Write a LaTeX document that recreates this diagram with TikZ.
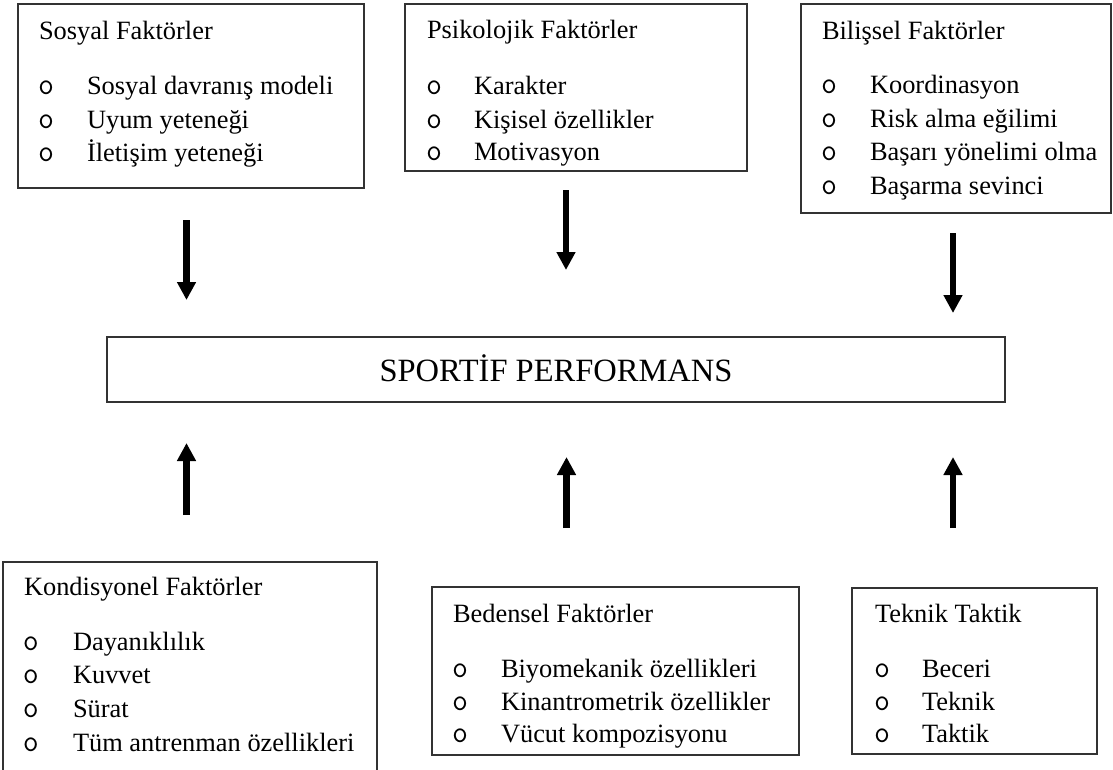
\documentclass[tikz,border=0pt]{standalone}
\usepackage{fontspec}
\setmainfont{Liberation Serif}
\usetikzlibrary{arrows.meta}
\tikzset{
  box/.style={draw=black!80, line width=1.1pt, rectangle, inner sep=0pt, outer sep=0pt, anchor=north west},
  txt/.style={anchor=base west, inner sep=0pt, outer sep=0pt, font=\fontsize{26.4}{32}\selectfont},
  bul/.style={anchor=base west, inner sep=0pt, outer sep=0pt, font=\ttfamily\fontsize{31}{36}\selectfont},
  bigtxt/.style={inner sep=0pt, font=\fontsize{32.5}{38}\selectfont},
  arr/.style={line width=6.5pt, -{Triangle[width=18pt,length=18pt]}}
}
\begin{document}
\begin{tikzpicture}[x=1pt,y=-1pt]
\clip (0,0) rectangle (1113,769);
\fill[white] (0,0) rectangle (1113,769);
% boxes
\node[box, minimum width=346pt, minimum height=184pt] (soc) at (18,4) {};
\node[box, minimum width=342pt, minimum height=167pt] (psy) at (405,4) {};
\node[box, minimum width=310pt, minimum height=209pt] (cog) at (801,4) {};
\node[box, minimum width=898pt, minimum height=65pt] (perf) at (107,337) {};
\node[box, minimum width=374pt, minimum height=215pt] (kon) at (3,562) {};
\node[box, minimum width=367pt, minimum height=168pt] (bed) at (432,587) {};
\node[box, minimum width=245pt, minimum height=166pt] (tek) at (852,588) {};
\node[bigtxt] (perft) at ([yshift=1pt]perf.center) {SPORT\.{I}F PERFORMANS};
% Sosyal
\node[txt] (socT) at (39,39) {Sosyal Faktörler};
\node[bul] (socB1) at (38,94) {o}; \node[txt] (socI1) at (87,94) {Sosyal davranış modeli};
\node[bul] (socB2) at (38,128) {o}; \node[txt] (socI2) at (87,128) {Uyum yeteneği};
\node[bul] (socB3) at (38,161) {o}; \node[txt] (socI3) at (87,161) {İletişim yeteneği};
% Psikolojik
\node[txt] (psyT) at (427,38) {Psikolojik Faktörler};
\node[bul] (psyB1) at (426,94) {o}; \node[txt] (psyI1) at (474,94) {Karakter};
\node[bul] (psyB2) at (426,128) {o}; \node[txt] (psyI2) at (474,128) {Kişisel özellikler};
\node[bul] (psyB3) at (426,160) {o}; \node[txt] (psyI3) at (474,160) {Motivasyon};
% Bilissel
\node[txt] (cogT) at (822,39) {Bilişsel Faktörler};
\node[bul] (cogB1) at (821,93) {o}; \node[txt] (cogI1) at (870,93) {Koordinasyon};
\node[bul] (cogB2) at (821,127) {o}; \node[txt] (cogI2) at (870,127) {Risk alma eğilimi};
\node[bul] (cogB3) at (821,160) {o}; \node[txt] (cogI3) at (870,160) {Başarı yönelimi olma};
\node[bul] (cogB4) at (821,194) {o}; \node[txt] (cogI4) at (870,194) {Başarma sevinci};
% Kondisyonel
\node[txt] (konT) at (24,595) {Kondisyonel Faktörler};
\node[bul] (konB1) at (23,650) {o}; \node[txt] (konI1) at (73,650) {Dayanıklılık};
\node[bul] (konB2) at (23,683) {o}; \node[txt] (konI2) at (73,683) {Kuvvet};
\node[bul] (konB3) at (23,717) {o}; \node[txt] (konI3) at (73,717) {Sürat};
\node[bul] (konB4) at (23,751) {o}; \node[txt] (konI4) at (73,751) {Tüm antrenman özellikleri};
% Bedensel
\node[txt] (bedT) at (453,622) {Bedensel Faktörler};
\node[bul] (bedB1) at (452,677) {o}; \node[txt] (bedI1) at (501,677) {Biyomekanik özellikleri};
\node[bul] (bedB2) at (452,710) {o}; \node[txt] (bedI2) at (501,710) {Kinantrometrik özellikler};
\node[bul] (bedB3) at (452,742) {o}; \node[txt] (bedI3) at (501,742) {Vücut kompozisyonu};
% Teknik
\node[txt] (tekT) at (875,622) {Teknik Taktik};
\node[bul] (tekB1) at (874,677) {o}; \node[txt] (tekI1) at (922,677) {Beceri};
\node[bul] (tekB2) at (874,710) {o}; \node[txt] (tekI2) at (922,710) {Teknik};
\node[bul] (tekB3) at (874,742) {o}; \node[txt] (tekI3) at (922,742) {Taktik};
% arrow end points
\coordinate (d1s) at (186.5,220); \coordinate (d1e) at (186.5,300);
\coordinate (d2s) at (566,190);   \coordinate (d2e) at (566,270);
\coordinate (d3s) at (953,233);   \coordinate (d3e) at (953,313);
\coordinate (u1s) at (186.5,515); \coordinate (u1e) at (186.5,443);
\coordinate (u2s) at (566.5,528); \coordinate (u2e) at (566.5,457);
\coordinate (u3s) at (953,528);   \coordinate (u3e) at (953,457);
\draw[arr] (d1s) -- (d1e);
\draw[arr] (d2s) -- (d2e);
\draw[arr] (d3s) -- (d3e);
\draw[arr] (u1s) -- (u1e);
\draw[arr] (u2s) -- (u2e);
\draw[arr] (u3s) -- (u3e);
\end{tikzpicture}
\end{document}
